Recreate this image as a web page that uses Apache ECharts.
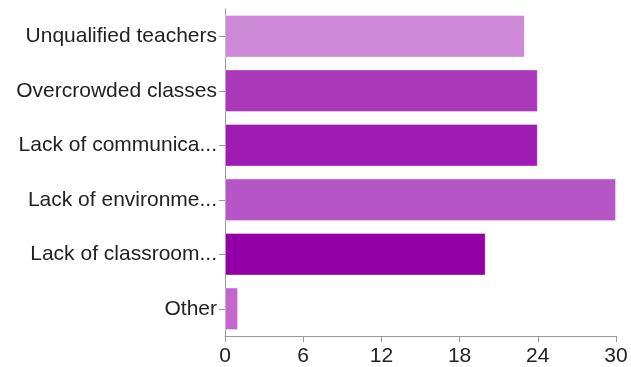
<!DOCTYPE html>
<html>
<head>
<meta charset="utf-8">
<script src="https://cdn.jsdelivr.net/npm/echarts@6/dist/echarts.min.js"></script>
<style>
  html, body { margin: 0; padding: 0; background: #fff; }
  #chart { width: 631px; height: 367px; }
</style>
</head>
<body>
<div id="chart"></div>
<script>
// data
const categories = [
  'Unqualified teachers',
  'Overcrowded classes',
  'Lack of communica...',
  'Lack of environme...',
  'Lack of classroom...',
  'Other'
]
const values = [23, 24, 24, 30, 20, 1]
const barColors = ['#cd88d8', '#aa38b9', '#a01bb3', '#b656c6', '#9300a6', '#c566cf']
const xTicks = [0, 6, 12, 18, 24, 30]

const chart = echarts.init(document.getElementById('chart'))
const font = 'Liberation Sans, Arial, sans-serif'

const option = {
  animation: false,
  grid: {
    left: 225,
    right: 15,
    top: 9,
    bottom: 30
  },
  xAxis: {
    type: 'value',
    min: xTicks[0],
    max: xTicks[xTicks.length - 1],
    interval: xTicks[1] - xTicks[0],
    axisLine: { show: true, lineStyle: { color: '#999', width: 1 } },
    axisTick: { show: true, length: 6, lineStyle: { color: '#999' } },
    splitLine: { show: false },
    axisLabel: {
      color: '#222',
      fontSize: 21,
      fontFamily: font,
      margin: 10
    }
  },
  yAxis: {
    type: 'category',
    inverse: true,
    data: categories,
    axisLine: { show: true, lineStyle: { color: '#999', width: 1 } },
    axisTick: { show: true, length: 6, alignWithLabel: true, lineStyle: { color: '#999' } },
    axisLabel: {
      color: '#222',
      fontSize: 21,
      fontFamily: font,
      margin: 8,
      padding: [5, 0, 0, 0]
    }
  },
  series: [
    {
      type: 'bar',
      data: values.map((v, i) => ({
        value: v,
        itemStyle: { color: barColors[i] }
      })),
      barCategoryGap: '22%',
      itemStyle: {
        borderColor: 'rgba(255,255,255,0.35)',
        borderWidth: 1
      }
    }
  ]
}
chart.setOption(option)
</script>
</body>
</html>
